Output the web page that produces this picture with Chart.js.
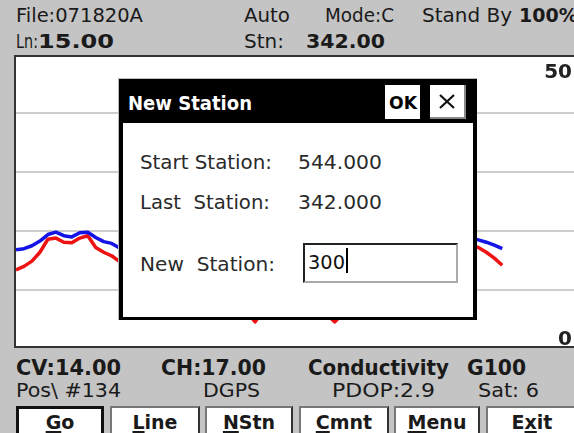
<!DOCTYPE html>
<html>
<head>
<meta charset="utf-8">
<script src="https://cdn.jsdelivr.net/npm/chart.js@4/dist/chart.umd.min.js"></script>
<style>
html,body{margin:0;padding:0;background:#c4c4c4;overflow:hidden}
#screen{position:relative;width:574px;height:433px;overflow:hidden;background:#c4c4c4;font-family:"DejaVu Sans",sans-serif;color:#1a1a1a}
.t{position:absolute;white-space:pre;font-size:19px;line-height:20px;transform-origin:0 0}
.b{font-weight:bold}
#plot{position:absolute;left:14px;top:55px;width:600px;height:293px;box-sizing:border-box;border:2px solid #333;border-right:none;background:#fff;overflow:hidden}
#cw{position:absolute;left:0;top:-3px;width:558px;height:295px}
#dlg{position:absolute;left:118px;top:78px;width:359px;height:242px;background:#000;box-sizing:border-box;border-left:1px solid #bbb;border-top:1px solid #bbb}
#dlgBody{position:absolute;left:4px;top:44px;width:350px;height:194px;background:#fff}
#ok,#xb{position:absolute;top:6px;height:34px;background:#fff;box-sizing:border-box}
#ok{left:266px;width:35px}
#xb{left:311px;width:36px;border-right:2px solid #888;border-bottom:2px solid #888}
#inp{position:absolute;left:180px;top:120px;width:155px;height:40px;box-sizing:border-box;border-top:2px solid #222;border-left:2px solid #222;border-right:2px solid #aaa;border-bottom:2px solid #aaa;background:#fff}
#caret{position:absolute;left:41px;top:3px;width:2px;height:25px;background:#000}
.dt{font-size:20px;color:#2a2a2a}
.btn{position:absolute;top:406px;height:34px;box-sizing:border-box;background:#fff;border:2px solid #777;border-right-color:#333;border-bottom-color:#333;text-align:center;font-weight:bold;font-size:19px;line-height:20px;padding-top:4px}
.btn u{text-decoration-thickness:2px;text-underline-offset:2px}
#go{border:3px solid #111;padding-top:3px}
</style>
</head>
<body>
<div id="screen">
  <div class="t" style="left:16px;top:5px" data-w="127">File:071820A</div>
  <div class="t" style="left:244px;top:5px" data-w="46">Auto</div>
  <div class="t" style="left:325px;top:5px" data-w="69">Mode:C</div>
  <div class="t" style="left:422px;top:5px" data-w="90">Stand By</div>
  <div class="t b" style="left:519px;top:5px">100%</div>
  <div class="t" style="left:16px;top:31px" data-w="22">Ln:</div>
  <div class="t b" style="left:38px;top:31px" data-w="76">15.00</div>
  <div class="t" style="left:244px;top:31px" data-w="40">Stn:</div>
  <div class="t b" style="left:306px;top:31px" data-w="79">342.00</div>

  <div id="plot"><div id="cw"><canvas id="chart" width="558" height="295"></canvas></div></div>

  <div id="dlg">
    <div class="t b" style="left:9px;top:14px;color:#fff;font-size:20px" data-w="124">New Station</div>
    <div id="ok"><div class="t b" style="left:4px;top:8px;font-size:18px;color:#000" data-w="28">OK</div></div>
    <div id="xb"><svg width="34" height="32" style="position:absolute;left:0;top:0"><path d="M10 10 L24 23 M24 10 L10 23" stroke="#111" stroke-width="2.2"/></svg></div>
    <div id="dlgBody">
      <div class="t dt" style="left:17px;top:29px" data-w="132">Start Station:</div>
      <div class="t dt" style="left:175px;top:29px" data-w="84">544.000</div>
      <div class="t dt" style="left:17px;top:69px" data-w="130">Last  Station:</div>
      <div class="t dt" style="left:175px;top:69px" data-w="84">342.000</div>
      <div class="t dt" style="left:17px;top:131px" data-w="135">New  Station:</div>
      <div id="inp">
        <div class="t dt" style="left:3px;top:7px;color:#111" data-w="37">300</div>
        <div id="caret"></div>
      </div>
    </div>
  </div>

  <div class="t b" style="left:16px;top:358px;font-size:21px" data-w="105">CV:14.00</div>
  <div class="t b" style="left:161px;top:358px;font-size:21px" data-w="105">CH:17.00</div>
  <div class="t b" style="left:308px;top:358px;font-size:21px" data-w="141">Conductivity</div>
  <div class="t b" style="left:467px;top:358px;font-size:21px" data-w="59">G100</div>
  <div class="t" style="left:16px;top:380px" data-w="105">Pos\ #134</div>
  <div class="t" style="left:203px;top:380px" data-w="57">DGPS</div>
  <div class="t" style="left:332px;top:380px" data-w="103">PDOP:2.9</div>
  <div class="t" style="left:478px;top:380px" data-w="61">Sat: 6</div>

  <div class="btn" id="go" style="left:16px;width:88px"><u>G</u>o</div>
  <div class="btn" style="left:110px;width:90px"><u>L</u>ine</div>
  <div class="btn" style="left:205px;width:88px"><u>N</u>Stn</div>
  <div class="btn" style="left:299px;width:90px"><u>C</u>mnt</div>
  <div class="btn" style="left:394px;width:86px"><u>M</u>enu</div>
  <div class="btn" style="left:486px;width:92px">E<u>x</u>it</div>
</div>
<script>
/* ---- data: conductivity readings per sample (left = start of line) ---- */
const blueReadings = [16.8,17.0,17.5,18.3,19.4,19.8,19.2,19.0,19.7,19.8,18.9,18.2,17.9,17.1,
  16.8,16.4,16.0,15.7,15.9,16.3,16.8,17.4,17.9,18.3,18.1,17.6,17.0,16.2,15.4,
  14.9,15.2,15.8,16.5,16.9,17.2,16.8,16.1,15.5,15.1,15.6,16.3,17.0,17.6,18.1,
  18.6,19.0,19.3,19.5,19.6,19.4,19.2,19.1,19.0,18.9,18.9,18.8,18.8,18.8,
  18.5,18.1,17.6,17.0];
const redReadings = [13.4,14.0,14.9,16.4,18.6,18.8,18.1,18.0,18.8,19.2,17.2,16.4,15.8,14.8,
  14.0,13.2,12.5,12.0,12.2,12.9,13.8,14.6,15.2,15.0,14.1,12.6,10.8,9.0,7.5,
  6.2,4.6,6.5,8.2,9.5,10.1,9.6,8.4,7.6,6.6,5.8,4.6,6.0,8.0,10.2,
  12.3,14.0,15.3,16.2,16.8,17.2,17.4,17.6,17.7,17.8,17.8,17.8,17.7,17.6,
  17.2,16.4,15.4,14.2];
const sampleNo = blueReadings.map((_, i) => i);
const yTickLabels = ['50', '0'];

/* ---- fit text runs to the widths measured on the screen ---- */
document.querySelectorAll('[data-w]').forEach(el=>{
  const w = el.getBoundingClientRect().width;
  const target = +el.dataset.w;
  if(w > 0) el.style.transform = 'scaleX(' + (target / w).toFixed(3) + ')';
});

const edgeLabels = {
  id: 'edgeLabels',
  afterDatasetsDraw(chart){
    const {ctx, chartArea, scales:{y}} = chart;
    ctx.save();
    ctx.font = 'bold 20px "DejaVu Sans"';
    ctx.fillStyle = '#222';
    ctx.textAlign = 'right';
    yTickLabels.forEach(t=>{
      const v = +t;
      const py = y.getPixelForValue(v) + (v === y.max ? 24 : -4);
      ctx.fillText(t, chartArea.right - 2, py);
    });
    ctx.restore();
  }
};

new Chart(document.getElementById('chart'), {
  type: 'line',
  data: {
    labels: sampleNo,
    datasets: [
      { data: blueReadings, borderColor: '#1414e6', borderWidth: 3.5, pointRadius: 0, tension: 0, borderJoinStyle: 'round' },
      { data: redReadings,  borderColor: '#ee1212', borderWidth: 3.5, pointRadius: 0, tension: 0, borderJoinStyle: 'round' }
    ]
  },
  options: {
    responsive: false,
    animation: false,
    layout: { padding: 0, autoPadding: false },
    plugins: { legend: { display: false }, tooltip: { enabled: false } },
    scales: {
      x: { type: 'linear', min: 0, max: 70, display: false },
      y: {
        min: 0, max: 50,
        ticks: { stepSize: 10, display: false },
        grid: { color: '#cdcdcd', lineWidth: 2, drawTicks: false },
        border: { display: false }
      }
    }
  },
  plugins: [edgeLabels]
});
</script>
</body>
</html>
